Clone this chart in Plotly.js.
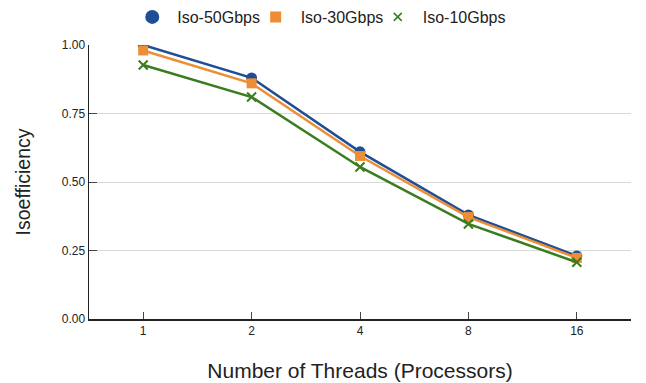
<!DOCTYPE html>
<html><head><meta charset="utf-8">
<script src="https://cdn.plot.ly/plotly-3.0.1.min.js"></script>
<style>html,body{margin:0;padding:0;background:#fff}#chart{width:646px;height:383px}</style>
</head><body><div id="chart"></div>
<script>
const threads = ['1', '2', '4', '8', '16'];
const seriesNames = ['Iso-50Gbps', 'Iso-30Gbps', 'Iso-10Gbps'];
const iso50 = [1.00, 0.88, 0.61, 0.38, 0.23];
const iso30 = [0.98, 0.86, 0.595, 0.372, 0.223];
const iso10 = [0.927, 0.81, 0.555, 0.347, 0.207];

const styles = [
  {color: '#1f4e96', symbol: 'circle', size: 11, lsize: 14},
  {color: '#ed8e35', symbol: 'square', size: 10, lsize: 11},
  {color: '#3a7d1e', symbol: 'x-thin', size: 9, lsize: 8}
];
const legendIds = ['legend', 'legend2', 'legend3'];
const legendX = [0.197, 0.388, 0.577];
const data = [iso50, iso30, iso10];
const traces = [];
data.forEach((ys, i) => {
  const s = styles[i];
  traces.push({x: threads, y: ys, name: seriesNames[i], mode: 'lines+markers', showlegend: false,
    line: {color: s.color, width: 2.5},
    marker: {symbol: s.symbol, size: s.size, color: s.color, line: {color: s.color, width: s.symbol === 'x-thin' ? 2 : 0}}});
});
data.forEach((ys, i) => {
  const s = styles[i];
  traces.push({x: [null], y: [null], name: seriesNames[i], mode: 'markers', showlegend: true, legend: legendIds[i],
    marker: {symbol: s.symbol, size: s.lsize, color: s.color, line: {color: s.color, width: s.symbol === 'x-thin' ? 1.5 : 0}}});
});

const layout = {
  width: 646, height: 383,
  margin: {l: 89, r: 15, t: 45, b: 64},
  paper_bgcolor: '#fff', plot_bgcolor: '#fff',
  font: {family: 'Liberation Sans, Arial, sans-serif', color: '#222', size: 12},
  showlegend: true,
  xaxis: {type: 'category', range: [-0.5, 4.5], showline: true, linecolor: '#222', linewidth: 1.5,
          ticks: 'inside', ticklen: 7, tickcolor: '#444', showgrid: false, zeroline: false,
          tickfont: {size: 12}, title: {text: 'Number of Threads (Processors)', font: {size: 21}, standoff: 26}},
  yaxis: {range: [0, 1.0], tickvals: [0, 0.25, 0.5, 0.75, 1.0], ticktext: ['0.00','0.25','0.50','0.75','1.00'],
          showline: true, linecolor: '#222', linewidth: 1.5, ticks: 'inside', ticklen: 8, tickcolor: '#444',
          showgrid: true, gridcolor: '#d9d9d9', gridwidth: 1, zeroline: false,
          tickfont: {size: 12}, title: {text: 'Isoefficiency', font: {size: 19.5}, standoff: 26}}
};
legendIds.forEach((id, i) => {
  layout[id] = {orientation: 'h', xref: 'container', x: legendX[i], xanchor: 'left',
                yref: 'container', y: 1, yanchor: 'top', font: {size: 16}, itemwidth: 40,
                bgcolor: 'rgba(0,0,0,0)'};
});
Plotly.newPlot('chart', traces, layout, {displayModeBar: false, staticPlot: true});
</script></body></html>
